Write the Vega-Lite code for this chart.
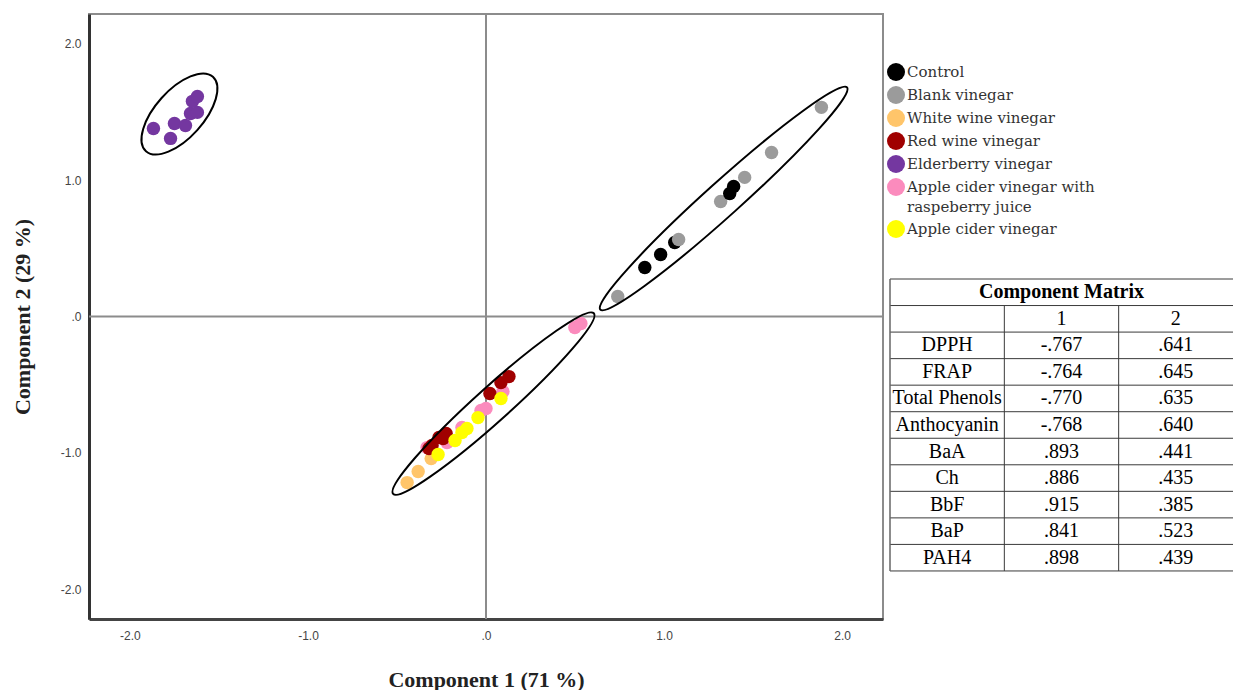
{
  "$schema": "https://vega.github.io/schema/vega-lite/v6.json",
  "padding": {"left": 10, "top": 12, "right": 0, "bottom": 0},
  "autosize": {"type": "pad"},
  "background": "white",
  "config": {"view": {"stroke": null}, "style": {"guide-label": {"lineHeight": 20}}},
  "datasets": {
    "scores": [
      {"group": "Blank vinegar", "pc1": 1.884, "pc2": 1.535},
      {"group": "Blank vinegar", "pc1": 1.604, "pc2": 1.204},
      {"group": "Blank vinegar", "pc1": 1.453, "pc2": 1.021},
      {"group": "Blank vinegar", "pc1": 1.318, "pc2": 0.844},
      {"group": "Control", "pc1": 1.060, "pc2": 0.543},
      {"group": "Blank vinegar", "pc1": 1.082, "pc2": 0.565},
      {"group": "Blank vinegar", "pc1": 0.740, "pc2": 0.147},
      {"group": "Control", "pc1": 1.391, "pc2": 0.954},
      {"group": "Control", "pc1": 1.369, "pc2": 0.903},
      {"group": "Control", "pc1": 0.981, "pc2": 0.455},
      {"group": "Control", "pc1": 0.892, "pc2": 0.360},
      {"group": "White wine vinegar", "pc1": -0.308, "pc2": -1.043},
      {"group": "White wine vinegar", "pc1": -0.381, "pc2": -1.138},
      {"group": "White wine vinegar", "pc1": -0.443, "pc2": -1.219},
      {"group": "Apple cider vinegar with raspeberry juice", "pc1": 0.499, "pc2": -0.081},
      {"group": "Apple cider vinegar with raspeberry juice", "pc1": 0.533, "pc2": -0.051},
      {"group": "Apple cider vinegar with raspeberry juice", "pc1": 0.095, "pc2": -0.551},
      {"group": "Apple cider vinegar with raspeberry juice", "pc1": 0.000, "pc2": -0.675},
      {"group": "Apple cider vinegar with raspeberry juice", "pc1": -0.028, "pc2": -0.690},
      {"group": "Apple cider vinegar with raspeberry juice", "pc1": -0.135, "pc2": -0.815},
      {"group": "Apple cider vinegar with raspeberry juice", "pc1": -0.219, "pc2": -0.925},
      {"group": "Apple cider vinegar with raspeberry juice", "pc1": -0.331, "pc2": -0.962},
      {"group": "Red wine vinegar", "pc1": 0.129, "pc2": -0.441},
      {"group": "Red wine vinegar", "pc1": 0.084, "pc2": -0.485},
      {"group": "Red wine vinegar", "pc1": 0.022, "pc2": -0.565},
      {"group": "Red wine vinegar", "pc1": -0.224, "pc2": -0.859},
      {"group": "Red wine vinegar", "pc1": -0.241, "pc2": -0.896},
      {"group": "Red wine vinegar", "pc1": -0.264, "pc2": -0.888},
      {"group": "Red wine vinegar", "pc1": -0.303, "pc2": -0.947},
      {"group": "Red wine vinegar", "pc1": -0.320, "pc2": -0.969},
      {"group": "Apple cider vinegar", "pc1": 0.084, "pc2": -0.602},
      {"group": "Apple cider vinegar", "pc1": -0.045, "pc2": -0.742},
      {"group": "Apple cider vinegar", "pc1": -0.107, "pc2": -0.822},
      {"group": "Apple cider vinegar", "pc1": -0.135, "pc2": -0.852},
      {"group": "Apple cider vinegar", "pc1": -0.174, "pc2": -0.910},
      {"group": "Apple cider vinegar", "pc1": -0.269, "pc2": -1.013},
      {"group": "Elderberry vinegar", "pc1": -1.868, "pc2": 1.380},
      {"group": "Elderberry vinegar", "pc1": -1.772, "pc2": 1.307},
      {"group": "Elderberry vinegar", "pc1": -1.750, "pc2": 1.417},
      {"group": "Elderberry vinegar", "pc1": -1.688, "pc2": 1.402},
      {"group": "Elderberry vinegar", "pc1": -1.660, "pc2": 1.490},
      {"group": "Elderberry vinegar", "pc1": -1.621, "pc2": 1.498},
      {"group": "Elderberry vinegar", "pc1": -1.649, "pc2": 1.579},
      {"group": "Elderberry vinegar", "pc1": -1.621, "pc2": 1.615}
    ],
    "matrix": [
      {"row": "hdr", "name": "", "c1": "1", "c2": "2"},
      {"row": "DPPH", "name": "DPPH", "c1": "-.767", "c2": ".641"},
      {"row": "FRAP", "name": "FRAP", "c1": "-.764", "c2": ".645"},
      {"row": "Total Phenols", "name": "Total Phenols", "c1": "-.770", "c2": ".635"},
      {"row": "Anthocyanin", "name": "Anthocyanin", "c1": "-.768", "c2": ".640"},
      {"row": "BaA", "name": "BaA", "c1": ".893", "c2": ".441"},
      {"row": "Ch", "name": "Ch", "c1": ".886", "c2": ".435"},
      {"row": "BbF", "name": "BbF", "c1": ".915", "c2": ".385"},
      {"row": "BaP", "name": "BaP", "c1": ".841", "c2": ".523"},
      {"row": "PAH4", "name": "PAH4", "c1": ".898", "c2": ".439"}
    ]
  },
  "spacing": 7,
  "bounds": "flush",
  "resolve": {"scale": {"color": "independent", "x": "independent", "y": "independent"}, "legend": {"color": "independent"}},
  "hconcat": [
    {
      "width": 794,
      "height": 605,
      "view": {"stroke": "#8c8c8c", "strokeWidth": 2, "fill": "white"},
      "layer": [
        {
          "data": {"values": [{}]},
          "mark": {"type": "rule", "color": "#8c8c8c", "strokeWidth": 2},
          "encoding": {"x": {"datum": 0, "type": "quantitative"}}
        },
        {
          "data": {"values": [{}]},
          "mark": {"type": "rule", "color": "#8c8c8c", "strokeWidth": 2},
          "encoding": {"y": {"datum": 0, "type": "quantitative"}}
        },
        {
          "data": {"name": "scores"},
          "mark": {"type": "circle", "size": 180, "opacity": 1},
          "encoding": {
            "x": {
              "field": "pc1", "type": "quantitative",
              "scale": {"domain": [-2.23, 2.23], "nice": false, "zero": false},
              "axis": {
                "values": [-2, -1, 0, 1, 2],
                "labelExpr": "datum.value == 0 ? '.0' : (datum.value < 0 ? '-' + format(-datum.value, '.1f') : format(datum.value, '.1f'))",
                "grid": false, "ticks": false,
                "domainColor": "#444", "domainWidth": 3,
                "labelFont": "Liberation Sans", "labelFontSize": 12, "labelColor": "#444", "labelPadding": 11, "labelFlush": false,
                "title": "Component 1 (71 %)", "titleFont": "Liberation Serif", "titleFontSize": 22, "titleFontWeight": "bold", "titleColor": "#222", "titlePadding": 28
              }
            },
            "y": {
              "field": "pc2", "type": "quantitative",
              "scale": {"domain": [-2.22, 2.22], "nice": false, "zero": false},
              "axis": {
                "values": [-2, -1, 0, 1, 2],
                "labelExpr": "datum.value == 0 ? '.0' : (datum.value < 0 ? '-' + format(-datum.value, '.1f') : format(datum.value, '.1f'))",
                "grid": false, "ticks": false,
                "domainColor": "#333", "domainWidth": 3,
                "labelFont": "Liberation Sans", "labelFontSize": 12, "labelColor": "#444", "labelPadding": 8, "labelFlush": false,
                "title": "Component 2 (29 %)", "titleFont": "Liberation Serif", "titleFontSize": 22, "titleFontWeight": "bold", "titleColor": "#222", "titlePadding": 26
              }
            },
            "color": {
              "field": "group", "type": "nominal",
              "scale": {
                "domain": ["Control", "Blank vinegar", "White wine vinegar", "Red wine vinegar", "Elderberry vinegar", "Apple cider vinegar with raspeberry juice", "Apple cider vinegar"],
                "range": ["#000000", "#9b9b9b", "#ffc56a", "#a00000", "#7437a0", "#fb8bbd", "#ffff00"]
              },
              "legend": {
                "orient": "none", "legendX": 798, "legendY": 49, "title": null, "padding": 0,
                "symbolType": "circle", "symbolSize": 324, "symbolStrokeWidth": 0, "symbolOpacity": 1,
                "labelFont": "DejaVu Serif", "labelFontSize": 15, "labelColor": "#333", "labelOffset": 2, "labelLimit": 400,
                "rowPadding": 5,
                "labelExpr": "datum.label == 'Apple cider vinegar with raspeberry juice' ? ['Apple cider vinegar with', 'raspeberry juice'] : datum.label"
              }
            }
          }
        },
        {
          "data": {"values": [{"pc1": -1.722, "pc2": 1.486}]},
          "mark": {"type": "point", "shape": "M -1 0 C -1 -0.265 -0.5523 -0.48 0 -0.48 C 0.5523 -0.48 1 -0.265 1 0 C 1 0.265 0.5523 0.48 0 0.48 C -0.5523 0.48 -1 0.265 -1 0 Z", "size": 10000, "angle": -48, "filled": false, "stroke": "black", "strokeWidth": 2, "opacity": 1},
          "encoding": {"x": {"field": "pc1", "type": "quantitative"}, "y": {"field": "pc2", "type": "quantitative"}}
        },
        {
          "data": {"values": [{"pc1": 1.335, "pc2": 0.866}]},
          "mark": {"type": "point", "shape": "M -1 0 C -1 -0.0566 -0.5523 -0.1024 0 -0.1024 C 0.5523 -0.1024 1 -0.0566 1 0 C 1 0.0566 0.5523 0.1024 0 0.1024 C -0.5523 0.1024 -1 0.0566 -1 0 Z", "size": 110224, "angle": -42, "filled": false, "stroke": "black", "strokeWidth": 2, "opacity": 1},
          "encoding": {"x": {"field": "pc1", "type": "quantitative"}, "y": {"field": "pc2", "type": "quantitative"}}
        },
        {
          "data": {"values": [{"pc1": 0.042, "pc2": -0.639}]},
          "mark": {"type": "point", "shape": "M -1 0 C -1 -0.0696 -0.5523 -0.126 0 -0.126 C 0.5523 -0.126 1 -0.0696 1 0 C 1 0.0696 0.5523 0.126 0 0.126 C -0.5523 0.126 -1 0.0696 -1 0 Z", "size": 72900, "angle": -42, "filled": false, "stroke": "black", "strokeWidth": 2, "opacity": 1},
          "encoding": {"x": {"field": "pc1", "type": "quantitative"}, "y": {"field": "pc2", "type": "quantitative"}}
        }
      ]
    },
    {
      "width": 343,
      "height": 605,
      "view": {"stroke": null},
      "layer": [
        {
          "data": {"name": "matrix"},
          "transform": [{"fold": ["name", "c1", "c2"], "as": ["col", "text"]}],
          "mark": {"type": "text", "font": "Liberation Serif", "fontSize": 20, "color": "#000"},
          "encoding": {
            "x": {"field": "col", "type": "nominal", "scale": {"domain": ["name", "c1", "c2"], "paddingInner": 0, "paddingOuter": 0}, "axis": null},
            "y": {"field": "row", "type": "nominal", "scale": {"domain": ["title", "hdr", "DPPH", "FRAP", "Total Phenols", "Anthocyanin", "BaA", "Ch", "BbF", "BaP", "PAH4", "end"], "range": [265, 583.5], "paddingInner": 0, "paddingOuter": 0}, "axis": null},
            "text": {"field": "text"}
          }
        },
        {
          "data": {"values": [{"row": "title", "text": "Component Matrix"}]},
          "mark": {"type": "text", "font": "Liberation Serif", "fontSize": 20, "fontWeight": "bold", "color": "#000"},
          "encoding": {"y": {"field": "row", "type": "nominal", "axis": null}, "text": {"field": "text"}}
        },
        {
          "data": {"name": "matrix"},
          "mark": {"type": "rule", "color": "#3a3a3a", "strokeWidth": 1},
          "encoding": {"y": {"field": "row", "type": "nominal", "bandPosition": 0, "axis": null}}
        },
        {
          "data": {"values": [{}]},
          "mark": {"type": "rule", "color": "#3a3a3a", "strokeWidth": 1},
          "encoding": {"y": {"datum": "title", "type": "nominal", "bandPosition": 0, "axis": null}}
        },
        {
          "data": {"values": [{}]},
          "mark": {"type": "rule", "color": "#3a3a3a", "strokeWidth": 1},
          "encoding": {"y": {"datum": "end", "type": "nominal", "bandPosition": 0, "axis": null}}
        },
        {
          "data": {"values": [{}]},
          "mark": {"type": "rule", "color": "#666", "strokeWidth": 1.5},
          "encoding": {
            "x": {"datum": "name", "type": "nominal", "bandPosition": 0, "axis": null},
            "y": {"datum": "title", "type": "nominal", "bandPosition": 0, "axis": null},
            "y2": {"datum": "end", "bandPosition": 0}
          }
        },
        {
          "data": {"values": [{}]},
          "mark": {"type": "rule", "color": "#3a3a3a", "strokeWidth": 1},
          "encoding": {
            "x": {"datum": "c1", "type": "nominal", "bandPosition": 0, "axis": null},
            "y": {"datum": "hdr", "type": "nominal", "bandPosition": 0, "axis": null},
            "y2": {"datum": "end", "bandPosition": 0}
          }
        },
        {
          "data": {"values": [{}]},
          "mark": {"type": "rule", "color": "#3a3a3a", "strokeWidth": 1},
          "encoding": {
            "x": {"datum": "c2", "type": "nominal", "bandPosition": 0, "axis": null},
            "y": {"datum": "hdr", "type": "nominal", "bandPosition": 0, "axis": null},
            "y2": {"datum": "end", "bandPosition": 0}
          }
        }
      ]
    }
  ]
}
